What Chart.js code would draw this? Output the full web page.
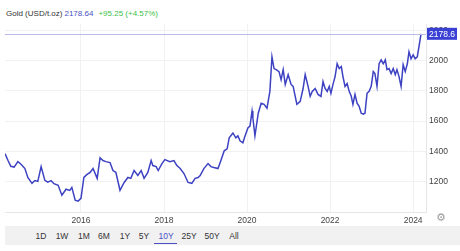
<!DOCTYPE html>
<html>
<head>
<meta charset="utf-8">
<script src="https://cdn.jsdelivr.net/npm/chart.js@4.4.1/dist/chart.umd.min.js"></script>
<style>
  body { margin: 0; background: #fff; font-family: "Liberation Sans", Arial, sans-serif; }
  #wrap { position: relative; width: 460px; height: 251px; overflow: hidden; }
  #head { position: absolute; left: 6px; top: 9px; font-size: 8px; color: #333; white-space: nowrap; }
  #head .px { color: #4a4fc4; margin-left: 2px; }
  #head .ch { color: #3cbf4a; margin-left: 5px; }
  #cv { position: absolute; left: 0; top: 16px; }
  #bar { position: absolute; left: 5px; top: 226px; width: 455px; height: 19px; background: #f1f1f2; }
  .rb { position: absolute; top: 231px; font-size: 8.5px; color: #333; transform: translateX(-50%); }
  .rb.on { color: #4a4fc4; }
  #ul { position: absolute; left: 154px; top: 243px; width: 23px; height: 1px; background: #4a4fc4; }
  #gear { position: absolute; left: 436px; top: 211px; font-size: 11px; color: #999; font-family: "DejaVu Sans", sans-serif; }
</style>
</head>
<body>
<div id="wrap">
  <div id="head">Gold (USD/t.oz)<span class="px">2178.64</span><span class="ch">+95.25 (+4.57%)</span></div>
  <canvas id="cv" width="460" height="212"></canvas>
  <div id="bar"></div>
  <div id="ranges"></div>
  <div id="ul"></div>
  <div id="gear">⚙</div>
</div>
<script>
// decimal years and gold price (USD/t.oz)
const dates = [
  2014.17, 2014.24, 2014.31, 2014.39, 2014.48, 2014.55, 2014.65, 2014.72, 2014.82, 2014.89,
  2014.96, 2015.04, 2015.13, 2015.20, 2015.28, 2015.35, 2015.45, 2015.54, 2015.64, 2015.73,
  2015.78, 2015.86, 2015.93, 2016.00, 2016.07, 2016.14, 2016.22, 2016.29, 2016.39, 2016.46,
  2016.53, 2016.60, 2016.70, 2016.77, 2016.84, 2016.94, 2017.04, 2017.13, 2017.20, 2017.28,
  2017.37, 2017.45, 2017.52, 2017.61, 2017.69, 2017.73, 2017.81, 2017.86, 2017.95, 2018.02,
  2018.14, 2018.24, 2018.31, 2018.39, 2018.48, 2018.58, 2018.67, 2018.75, 2018.82, 2018.87,
  2018.96, 2019.06, 2019.13, 2019.20, 2019.30, 2019.37, 2019.45, 2019.52, 2019.57, 2019.66,
  2019.73, 2019.78, 2019.83, 2019.90, 2019.95, 2020.02, 2020.07, 2020.12, 2020.14, 2020.19,
  2020.27, 2020.34, 2020.41, 2020.48, 2020.55, 2020.60, 2020.65, 2020.70, 2020.77, 2020.82,
  2020.87, 2020.92, 2020.99, 2021.06, 2021.11, 2021.16, 2021.20, 2021.28, 2021.35, 2021.40,
  2021.47, 2021.52, 2021.57, 2021.64, 2021.71, 2021.78, 2021.83, 2021.88, 2021.93, 2021.98,
  2022.02, 2022.07, 2022.12, 2022.17, 2022.22, 2022.27, 2022.31, 2022.36, 2022.41, 2022.46,
  2022.51, 2022.55, 2022.60, 2022.65, 2022.70, 2022.75, 2022.80, 2022.84, 2022.89, 2022.94,
  2022.99, 2023.04, 2023.08, 2023.13, 2023.18, 2023.23, 2023.28, 2023.33, 2023.37, 2023.42,
  2023.47, 2023.52, 2023.57, 2023.61, 2023.66, 2023.71, 2023.76, 2023.81, 2023.86, 2023.90,
  2023.95, 2024.00, 2024.05, 2024.10, 2024.14, 2024.19
];
const prices = [
  1384, 1340, 1300, 1295, 1331, 1315, 1285, 1226, 1187, 1206,
  1200, 1298, 1207, 1195, 1205, 1185, 1174, 1108, 1148, 1140,
  1160, 1075, 1069, 1088, 1226, 1245, 1260, 1285, 1220, 1357,
  1338, 1331, 1325, 1272, 1260, 1141, 1193, 1226, 1220, 1272,
  1240, 1272, 1220, 1259, 1338, 1305, 1298, 1272, 1318, 1344,
  1331, 1338, 1305, 1285, 1252, 1193, 1187, 1220, 1226, 1239,
  1285, 1318, 1298, 1292, 1285, 1338, 1403, 1416, 1489, 1521,
  1489, 1502, 1469, 1456, 1500, 1554, 1567, 1666, 1620, 1502,
  1652, 1718, 1711, 1685, 1797, 2026, 1948, 1941, 1928, 1875,
  1941, 1843, 1908, 1843, 1830, 1764, 1711, 1731, 1816, 1908,
  1830, 1764, 1797, 1816, 1777, 1764, 1862, 1816, 1797, 1830,
  1784, 1843, 1895, 1980, 1948, 1961, 1895, 1830, 1849, 1797,
  1764, 1711, 1777, 1718, 1698, 1652, 1646, 1652, 1784, 1797,
  1830, 1928, 1915, 1830, 1980, 2006, 1980, 2006, 1941, 1948,
  1915, 1948, 1908, 1941, 1895, 1830, 1974, 1928, 1980, 2059,
  2013, 2039, 2013, 2026, 2092, 2178.64
];
const yearTicks = [2016, 2018, 2020, 2022, 2024];
const priceTicks = [1200, 1400, 1600, 1800, 2000, 2200];
const ranges = ['1D', '1W', '1M', '6M', '1Y', '5Y', '10Y', '25Y', '50Y', 'All'];
const rangeX = [41, 62, 84, 104, 125, 144, 166, 189, 212, 234];

const rangesEl = document.getElementById('ranges');
ranges.forEach((r, i) => {
  const s = document.createElement('div');
  s.className = 'rb' + (r === '10Y' ? ' on' : '');
  s.style.left = rangeX[i] + 'px';
  s.textContent = r;
  rangesEl.appendChild(s);
});

const lineColor = '#3d42c2';

// last price line and badge on the right axis
const lastPrice = {
  id: 'lastPrice',
  afterDraw(chart) {
    const ctx = chart.ctx;
    const area = chart.chartArea;
    const last = prices[prices.length - 1];
    const y = chart.scales.y.getPixelForValue(last);
    ctx.save();
    ctx.strokeStyle = '#b9bce6';
    ctx.lineWidth = 1;
    ctx.beginPath();
    ctx.moveTo(area.left, Math.round(y) + 0.5);
    ctx.lineTo(area.right, Math.round(y) + 0.5);
    ctx.stroke();
    ctx.fillStyle = '#3a40d4';
    ctx.fillRect(area.right + 1, y - 6, 30, 12);
    ctx.fillStyle = '#fff';
    ctx.font = '8.5px "Liberation Sans", Arial, sans-serif';
    ctx.textBaseline = 'middle';
    ctx.fillText(last.toFixed(1), area.right + 3, y + 0.5);
    ctx.restore();
  }
};

new Chart(document.getElementById('cv'), {
  type: 'line',
  data: {
    datasets: [{
      data: dates.map((d, i) => ({ x: d, y: prices[i] })),
      borderColor: lineColor,
      borderWidth: 1.5,
      pointRadius: 0,
      tension: 0,
      fill: false
    }]
  },
  options: {
    responsive: false,
    animation: false,
    layout: { padding: { left: 5, top: 2, right: 0, bottom: 0 } },
    plugins: { legend: { display: false }, tooltip: { enabled: false } },
    scales: {
      x: {
        type: 'linear',
        min: 2014.17,
        max: 2024.31,
        afterBuildTicks: (s) => { s.ticks = yearTicks.map(v => ({ value: v })); },
        afterFit: (s) => { s.height = 16; },
        ticks: {
          padding: 4,
          color: '#444',
          font: { size: 8.5, family: '"Liberation Sans", Arial, sans-serif' },
          maxRotation: 0,
          callback: (v) => String(v)
        },
        grid: { color: '#f1f1f3', drawTicks: false },
        border: { color: '#e6e6ea' }
      },
      y: {
        position: 'right',
        min: 997,
        max: 2243,
        afterBuildTicks: (s) => { s.ticks = priceTicks.map(v => ({ value: v })); },
        afterFit: (s) => { s.width = 34; },
        ticks: {
          padding: 3,
          color: '#444',
          font: { size: 8.5, family: '"Liberation Sans", Arial, sans-serif' },
          callback: (v) => String(v)
        },
        grid: { color: '#f1f1f3', drawTicks: false },
        border: { color: '#e6e6ea' }
      }
    }
  },
  plugins: [lastPrice]
});
</script>
</body>
</html>
